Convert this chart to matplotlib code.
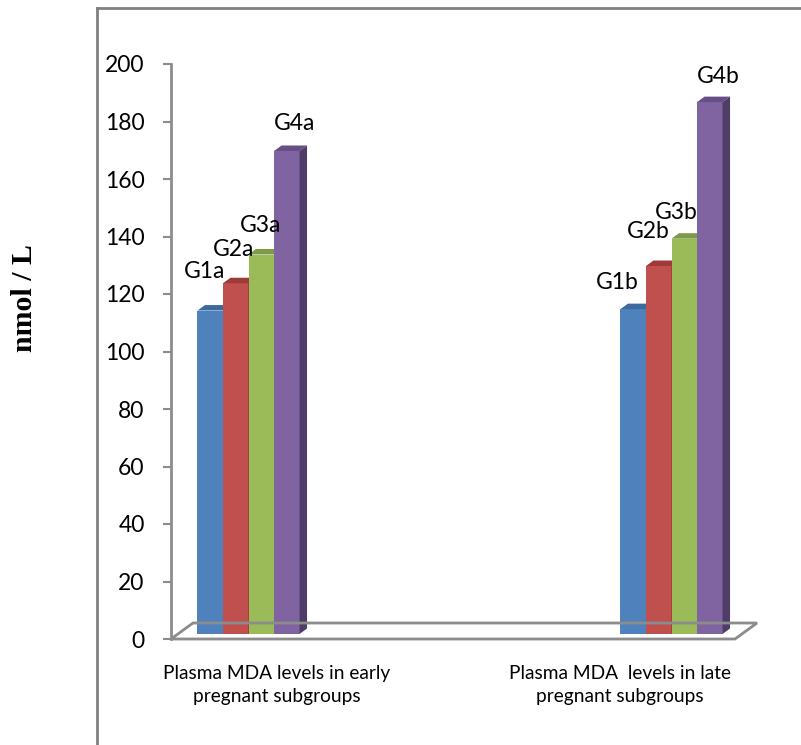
import matplotlib
matplotlib.use("Agg")
import matplotlib.pyplot as plt
from matplotlib.patches import Polygon
from matplotlib.transforms import Affine2D, IdentityTransform
from matplotlib.lines import Line2D

# ---- data -------------------------------------------------------------
categories = ["Plasma MDA levels in early\npregnant subgroups",
              "Plasma MDA  levels in late\npregnant subgroups"]
early_values = [112.5, 122, 132, 168]
late_values = [113, 128, 137.5, 185]
early_names = ["G1a", "G2a", "G3a", "G4a"]
late_names = ["G1b", "G2b", "G3b", "G4b"]
y_ticks = [0, 20, 40, 60, 80, 100, 120, 140, 160, 180, 200]
y_title = "nmol / L"

# ---- style ------------------------------------------------------------
front_colors = ["#4F81BD", "#C0504D", "#9BBB59", "#8064A2"]
top_colors = ["#3D6A9E", "#9E3B38", "#7C9A47", "#654F85"]
side_colors = ["#34598A", "#8A3330", "#6B853D", "#4F3D68"]
axis_gray = "#8C8C8C"
group_centers = [0.25, 1.75]
bar_width = 0.0905
# per-label nudges (pixels) for the subgroup names above the bars
early_label_offsets = [(-6, 39), (-2, 34), (-1, 29), (8, 27)]
late_label_offsets = [(-16, 27), (-10, 35), (-8, 26), (9, 26)]
category_label_x = [0.374, 1.592]

W, H = 801, 745
fig = plt.figure(figsize=(W / 100, H / 100), dpi=100)
ax = fig.add_axes([171 / W, (H - 639) / H, 564 / W, 575 / H])
ax.set_xlim(0, 2)
ax.set_ylim(0, 200)
ax.patch.set_alpha(0)

for s in ["top", "right", "bottom"]:
    ax.spines[s].set_visible(False)
ax.spines["left"].set_color(axis_gray)
ax.spines["left"].set_linewidth(2)

ax.set_yticks(y_ticks)
ax.set_yticklabels([str(t) for t in y_ticks], family="Lato", fontsize=16.5)
ax.tick_params(axis="y", length=6, width=1.5, color=axis_gray, pad=13)

ax.set_xticks(category_label_x)
ax.set_xticklabels(categories, family="Lato", fontsize=13.8, linespacing=1.4)
ax.tick_params(axis="x", length=0, pad=19)

fig.canvas.draw()
ident = IdentityTransform()

# vertical axis title
fig.text(25 / W, 1 - 298 / H, y_title, rotation=90, ha="center", va="center",
         family="Liberation Serif", fontweight="bold", fontsize=21.5)

# floor of the chart (front edge + depth toward the back)
depth_dx, depth_dy = 22, 16
(fx0, fy0) = ax.transAxes.transform((0, 0))
(fx1, _) = ax.transAxes.transform((1, 0))
floor = Polygon([(fx0, fy0), (fx1, fy0), (fx1 + depth_dx, fy0 + depth_dy),
                 (fx0 + depth_dx, fy0 + depth_dy)], closed=True,
                facecolor="none", edgecolor=axis_gray, linewidth=2,
                transform=ident, clip_on=False, zorder=1)
fig.add_artist(floor)

# bars: front face shifted into the floor, plus top and side faces
shift_x, shift_y = 7, 5
bar_dx, bar_dy = 7.5, 5.5
front_tr = ax.transData + Affine2D().translate(shift_x, shift_y)

for center, values, names, offsets in [
        (group_centers[0], early_values, early_names, early_label_offsets),
        (group_centers[1], late_values, late_names, late_label_offsets)]:
    xs = [center + (i - 1.5) * bar_width for i in range(4)]
    for i, (x, v) in enumerate(zip(xs, values)):
        ax.bar(x, v, bar_width, color=front_colors[i], linewidth=0,
               transform=front_tr, zorder=3 + i)
        xl, yb = front_tr.transform((x - bar_width / 2, 0))
        xr, yt = front_tr.transform((x + bar_width / 2, v))
        top = Polygon([(xl, yt), (xr, yt), (xr + bar_dx, yt + bar_dy),
                       (xl + bar_dx, yt + bar_dy)], closed=True,
                      facecolor=top_colors[i], linewidth=0,
                      transform=ident, zorder=3 + i)
        side = Polygon([(xr, yb), (xr, yt), (xr + bar_dx, yt + bar_dy),
                        (xr + bar_dx, yb + bar_dy)], closed=True,
                       facecolor=side_colors[i], linewidth=0,
                       transform=ident, zorder=3 + i)
        ax.add_patch(top)
        ax.add_patch(side)
        cx = (xl + xr) / 2
        ax.text(cx + offsets[i][0], yt + offsets[i][1], names[i],
                transform=ident, ha="center", va="center",
                family="Lato", fontsize=16.5, zorder=10)

# outer frame lines (left and top)
frame_kw = dict(color="#808080", linewidth=2, transform=ident)
fig.add_artist(Line2D([97, 97], [0, H - 8], **frame_kw))
fig.add_artist(Line2D([97, W], [H - 8, H - 8], **frame_kw))

fig.savefig("out.png", dpi=100)
